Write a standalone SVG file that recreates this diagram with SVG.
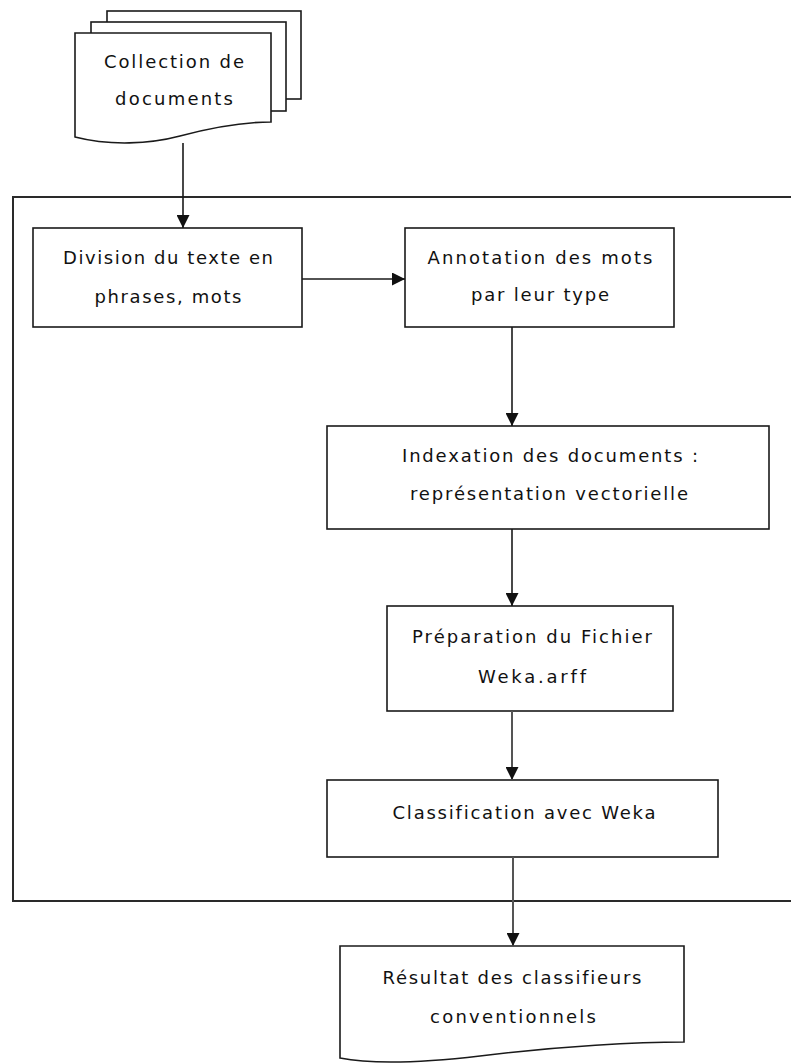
<svg xmlns="http://www.w3.org/2000/svg" width="791" height="1063" viewBox="0 0 791 1063">
<defs>
<style>
.shape{fill:#fff;stroke:#1a1a1a;stroke-width:1.6}
.frame{fill:none;stroke:#2a2a2a;stroke-width:2}
.conn{fill:none;stroke:#1a1a1a;stroke-width:1.6}
.conn.grey{stroke:#555;stroke-width:2}
text{font-family:"DejaVu Sans","Liberation Sans",sans-serif;font-size:18px;fill:#111;text-anchor:middle;font-variant-ligatures:none}
</style>
<marker id="arr" viewBox="0 0 10 10" refX="10" refY="5" markerWidth="13" markerHeight="13" markerUnits="userSpaceOnUse" orient="auto">
<path d="M0,0 L10,5 L0,10 Z" fill="#111"/>
</marker>
</defs>
<rect width="791" height="1063" fill="#fff"/>
<g id="frame">
<path class="frame" d="M791,197 H13 V901 H791"/>
</g>
<g id="collection">
<rect class="shape" x="107" y="11" width="194" height="88"/>
<rect class="shape" x="91" y="22" width="195" height="89"/>
<path class="shape" d="M75,33 H271 V122 C240,122 210,128 180,136 C150,144 110,146 75,137 Z"/>
<text x="174" y="68" textLength="140" lengthAdjust="spacing">Collection de</text>
<text x="174" y="105" textLength="118" lengthAdjust="spacing">documents</text>
</g>
<g id="division">
<rect class="shape" x="33" y="228" width="269" height="99"/>
<text x="168" y="264" textLength="210" lengthAdjust="spacing">Division du texte en</text>
<text x="168" y="303" textLength="147" lengthAdjust="spacing">phrases, mots</text>
</g>
<g id="annotation">
<rect class="shape" x="405" y="228" width="269" height="99"/>
<text x="540" y="264" textLength="225" lengthAdjust="spacing">Annotation des mots</text>
<text x="540" y="301" textLength="138" lengthAdjust="spacing">par leur type</text>
</g>
<g id="indexation">
<rect class="shape" x="327" y="426" width="442" height="103"/>
<text x="550" y="462" textLength="296" lengthAdjust="spacing">Indexation des documents :</text>
<text x="549" y="500" textLength="278" lengthAdjust="spacing">représentation vectorielle</text>
</g>
<g id="preparation">
<rect class="shape" x="387" y="606" width="286" height="105"/>
<text x="532" y="643" textLength="240" lengthAdjust="spacing">Préparation du Fichier</text>
<text x="532" y="683" textLength="108" lengthAdjust="spacing">Weka.arff</text>
</g>
<g id="classification">
<rect class="shape" x="327" y="780" width="391" height="77"/>
<text x="524" y="819" textLength="263" lengthAdjust="spacing">Classification avec Weka</text>
</g>
<g id="resultat">
<path class="shape" d="M340,946 H684 V1042 C640,1042 560,1046 480,1056 C420,1063 370,1064 340,1058 Z"/>
<text x="512" y="984" textLength="259" lengthAdjust="spacing">Résultat des classifieurs</text>
<text x="513" y="1023" textLength="166" lengthAdjust="spacing">conventionnels</text>
</g>
<g id="connectors">
<line class="conn" x1="183" y1="143" x2="183" y2="228" marker-end="url(#arr)"/>
<line class="conn" x1="302" y1="279" x2="405" y2="279" marker-end="url(#arr)"/>
<line class="conn" x1="512" y1="327" x2="512" y2="426" marker-end="url(#arr)"/>
<line class="conn" x1="512" y1="529" x2="512" y2="606" marker-end="url(#arr)"/>
<line class="conn grey" x1="512" y1="711" x2="512" y2="780" marker-end="url(#arr)"/>
<line class="conn grey" x1="513" y1="857" x2="513" y2="946" marker-end="url(#arr)"/>
</g>
</svg>
